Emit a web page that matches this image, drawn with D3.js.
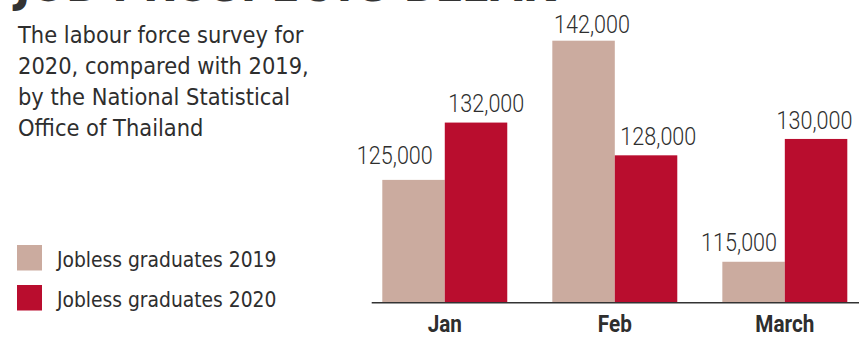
<!DOCTYPE html>
<html>
<head>
<meta charset="utf-8">
<script src="https://cdn.jsdelivr.net/npm/d3@7"></script>
<style>
  html, body { margin: 0; padding: 0; background: #fff; }
  svg { display: block; }
</style>
</head>
<body>
<svg id="chart" width="859" height="337"></svg>
<script>
// Jobless graduates by month, 2019 vs 2020
const months = ["Jan", "Feb", "March"];
const seriesNames = ["Jobless graduates 2019", "Jobless graduates 2020"];
const values2019 = [125000, 142000, 115000];
const values2020 = [132000, 128000, 130000];
const titleLines = [
  "The labour force survey for",
  "2020, compared with 2019,",
  "by the National Statistical",
  "Office of Thailand"
];
const headline = "JOB PROSPECTS BLEAK";

// layout
const W = 859, H = 337;
const colors = ["#cbab9f", "#b90d2e"];
const ink = "#2e2e2e";
const baseY = 302.7;
const narrow = 0.84;       // horizontal squeeze for the condensed number face
// hand-placed label nudges: [dx from bar centre, gap above bar top]
const labelNudge = [
  [[-18.7, 16], [10.3, 11]],
  [[8.5, 8], [12.3, 10]],
  [[-14.5, 11], [-1.6, 9.5]]
];

const svg = d3.select("#chart");

// headline, mostly above the frame
svg.append("text")
  .attr("x", 15).attr("y", 1)
  .attr("textLength", 540)
  .attr("lengthAdjust", "spacingAndGlyphs")
  .attr("font-family", "DejaVu Sans")
  .attr("font-weight", "bold")
  .attr("font-size", 46)
  .attr("fill", "#333")
  .text(headline);

// intro text
svg.append("g").selectAll("text")
  .data(titleLines)
  .join("text")
  .attr("x", 18)
  .attr("y", (d, i) => 43 + i * 31)
  .attr("font-family", "DejaVu Sans Condensed")
  .attr("font-size", 23.4)
  .attr("fill", ink)
  .text(d => d);

// scales
const x0 = d3.scaleBand()
  .domain(months)
  .range([382.3, 847.3])
  .paddingInner(0.265)
  .paddingOuter(0);
const x1 = d3.scaleBand()
  .domain([0, 1])
  .range([0, x0.bandwidth()])
  .padding(0);
const y = d3.scaleLinear()
  .domain([110000, 142000])
  .range([baseY, 40.7]);

const rows = months.map((m, i) => ({ month: m, i, vals: [values2019[i], values2020[i]] }));

const groups = svg.append("g").selectAll("g")
  .data(rows)
  .join("g")
  .attr("transform", d => `translate(${x0(d.month)},0)`);

groups.selectAll("rect")
  .data(d => d.vals.map((v, s) => ({ v, s })))
  .join("rect")
  .attr("x", d => x1(d.s))
  .attr("width", x1.bandwidth())
  .attr("y", d => y(d.v))
  .attr("height", d => baseY - y(d.v))
  .attr("fill", d => colors[d.s]);

groups.selectAll("text.val")
  .data(d => d.vals.map((v, s) => ({ v, s, i: d.i })))
  .join("text")
  .attr("class", "val")
  .attr("transform", d => {
    const tx = x1(d.s) + x1.bandwidth() / 2 + labelNudge[d.i][d.s][0];
    const ty = y(d.v) - labelNudge[d.i][d.s][1];
    return `translate(${tx},${ty}) scale(${narrow},1)`;
  })
  .attr("text-anchor", "middle")
  .attr("font-family", "Roboto")
  .attr("font-weight", 300)
  .attr("font-size", 25.7)
  .attr("fill", ink)
  .text(d => d3.format(",")(d.v));

// x axis
const xAxis = svg.append("g")
  .attr("transform", `translate(0,${baseY})`)
  .call(d3.axisBottom(x0).tickSize(0).tickPadding(0));
xAxis.select(".domain").remove();
xAxis.append("line")
  .attr("x1", 371.7).attr("x2", W)
  .attr("y1", 0).attr("y2", 0)
  .attr("stroke", "#333").attr("stroke-width", 1.6);
xAxis.selectAll(".tick text")
  .attr("y", 0)
  .attr("dy", 0)
  .attr("transform", "translate(0,29.5) scale(0.88,1)")
  .attr("font-family", "Roboto")
  .attr("font-weight", "bold")
  .attr("font-size", 23.5)
  .attr("fill", ink);

// legend
const legend = svg.append("g").selectAll("g")
  .data(seriesNames)
  .join("g")
  .attr("transform", (d, i) => `translate(17,${245 + i * 40})`);
legend.append("rect")
  .attr("width", 25).attr("height", 25.5)
  .attr("fill", (d, i) => colors[i]);
legend.append("text")
  .attr("x", 40).attr("y", 22.3)
  .attr("font-family", "DejaVu Sans Condensed")
  .attr("font-size", 20.8)
  .attr("fill", ink)
  .text(d => d);
</script>
</body>
</html>
